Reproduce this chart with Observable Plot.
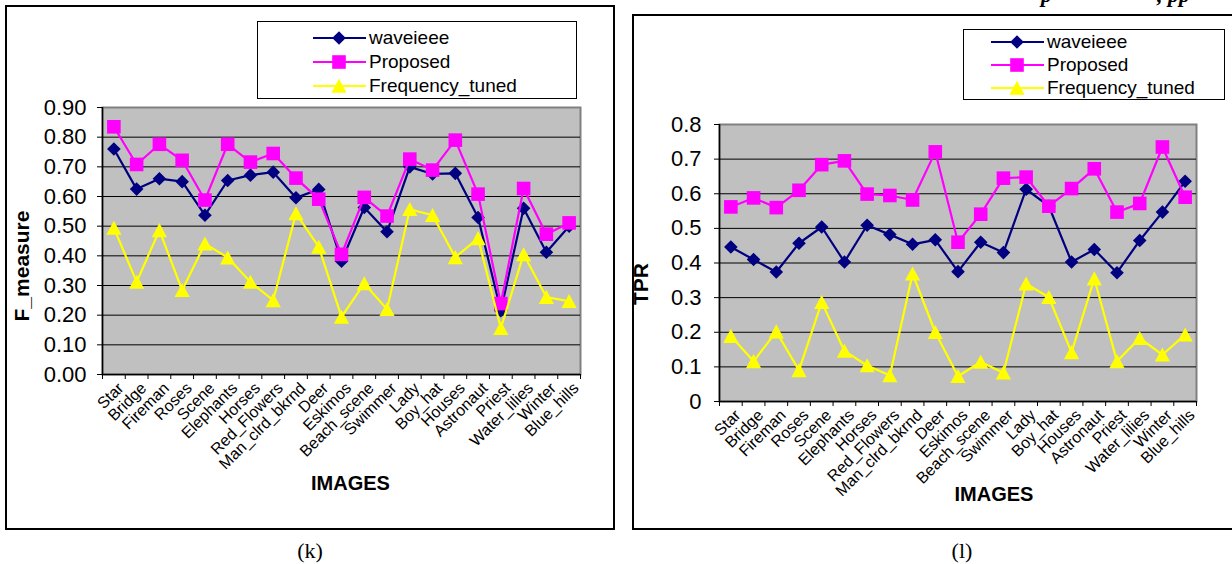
<!DOCTYPE html>
<html>
<head>
<meta charset="utf-8">
<script src="https://cdn.jsdelivr.net/npm/d3@7"></script>
<script src="https://cdn.jsdelivr.net/npm/@observablehq/plot@0.6"></script>
<style>
html, body { margin: 0; padding: 0; background: #fff; }
body { width: 1232px; height: 564px; position: relative; overflow: hidden; font-family: "Liberation Sans", Arial, sans-serif; }
.frame { position: absolute; border: 2px solid #000; box-sizing: border-box; }
.chart { position: absolute; }
.chart svg { overflow: visible; }
.legend { position: absolute; border: 1px solid #000; background: #fff; box-sizing: border-box; }
.legend .row { position: absolute; height: 24px; line-height: 24px; font-size: 19px; color: #000; white-space: nowrap; }
.legend svg { position: absolute; overflow: visible; }
.caption { position: absolute; font-family: "Liberation Serif", "Times New Roman", serif; font-size: 22px; transform: translateX(-50%); line-height: 24px; }
.top { position: absolute; font-family: "Liberation Serif", "Times New Roman", serif; font-weight: bold; font-style: italic; font-size: 22px; line-height: 22px; white-space: nowrap; }
</style>
</head>
<body>
<script>
// ---------------- data ----------------
const images = ["Star","Bridge","Fireman","Roses","Scene","Elephants","Horses","Red_Flowers","Man_clrd_bkrnd","Deer","Eskimos","Beach_scene","Swimmer","Lady","Boy_hat","Houses","Astronaut","Priest","Water_lilies","Winter","Blue_hills"];
const seriesNames = ["waveieee", "Proposed", "Frequency_tuned"];
const seriesColors = ["#000080", "#FF00FF", "#FFFF00"];

// (k) F_measure
const fWaveieee = [0.760,0.625,0.660,0.650,0.537,0.654,0.672,0.682,0.596,0.624,0.382,0.563,0.481,0.700,0.676,0.678,0.529,0.215,0.560,0.412,0.500];
const fProposed = [0.835,0.708,0.776,0.722,0.588,0.776,0.716,0.745,0.662,0.591,0.405,0.597,0.534,0.726,0.689,0.790,0.608,0.239,0.627,0.473,0.511];
const fFreqTuned = [0.494,0.312,0.486,0.284,0.441,0.394,0.312,0.250,0.543,0.430,0.194,0.307,0.220,0.557,0.537,0.395,0.459,0.156,0.405,0.261,0.247];
const fTicks = [0,0.1,0.2,0.3,0.4,0.5,0.6,0.7,0.8,0.9];
const fTickLabels = ["0.00","0.10","0.20","0.30","0.40","0.50","0.60","0.70","0.80","0.90"];

// (l) TPR
const tWaveieee = [0.446,0.410,0.374,0.457,0.504,0.403,0.509,0.482,0.454,0.467,0.375,0.460,0.430,0.613,0.564,0.403,0.439,0.372,0.465,0.547,0.636];
const tProposed = [0.562,0.588,0.560,0.610,0.684,0.695,0.599,0.595,0.582,0.721,0.460,0.541,0.645,0.648,0.564,0.615,0.672,0.547,0.572,0.735,0.590];
const tFreqTuned = [0.189,0.116,0.202,0.090,0.287,0.146,0.104,0.075,0.369,0.200,0.073,0.114,0.083,0.340,0.301,0.142,0.355,0.116,0.183,0.135,0.193];
const tTicks = [0,0.1,0.2,0.3,0.4,0.5,0.6,0.7,0.8];
const tTickLabels = ["0","0.1","0.2","0.3","0.4","0.5","0.6","0.7","0.8"];

// ---------------- symbols ----------------
const diamondSym = { draw(ctx, size) { const r = Math.sqrt(size / Math.PI); ctx.moveTo(0, -r); ctx.lineTo(r, 0); ctx.lineTo(0, r); ctx.lineTo(-r, 0); ctx.closePath(); } };
const squareSym = { draw(ctx, size) { const r = Math.sqrt(size / Math.PI); ctx.moveTo(-r, -r); ctx.lineTo(r, -r); ctx.lineTo(r, r); ctx.lineTo(-r, r); ctx.closePath(); } };
const triangleSym = { draw(ctx, size) { const r = Math.sqrt(size / Math.PI); ctx.moveTo(0, -r * 0.95); ctx.lineTo(r, r * 0.9); ctx.lineTo(-r, r * 0.9); ctx.closePath(); } };
const symbols = [diamondSym, squareSym, triangleSym];
const symbolR = [6.8, 6.8, 7.6];

const FONT = "'Liberation Sans', Arial, sans-serif";

function makeChart(cfg) {
  const n = images.length;
  const idx = d3.range(n);
  const bounds = d3.range(n + 1).map(i => i - 0.5);
  const yMax = cfg.ticks[cfg.ticks.length - 1];
  const seriesMarks = [];
  cfg.series.forEach((vals, s) => {
    const rows = vals.map((v, i) => ({ i, v }));
    seriesMarks.push(Plot.line(rows, { x: "i", y: "v", stroke: seriesColors[s], strokeWidth: 2.2 }));
    seriesMarks.push(Plot.dot(rows, { x: "i", y: "v", symbol: symbols[s], r: symbolR[s], fill: seriesColors[s], stroke: "none" }));
  });
  return Plot.plot({
    width: cfg.width, height: cfg.height,
    marginLeft: cfg.ml, marginRight: cfg.mr, marginTop: cfg.mt, marginBottom: cfg.mb,
    style: { fontFamily: FONT, background: "transparent", color: "#000", overflow: "visible" },
    x: { type: "linear", domain: [-0.5, n - 0.5] },
    y: { type: "linear", domain: [0, yMax] },
    marks: [
      Plot.frame({ fill: "#C0C0C0", stroke: "#808080", strokeWidth: 2 }),
      Plot.ruleY(cfg.ticks.filter(t => t > 0 && t < yMax), { stroke: "#000", strokeWidth: 1 }),
      Plot.ruleX([-0.5], { stroke: "#000", strokeWidth: 1.5 }),
      Plot.ruleY([0], { stroke: "#000", strokeWidth: 1.5 }),
      Plot.axisY({ ticks: cfg.ticks, tickFormat: d => cfg.tickLabels[cfg.ticks.indexOf(d)], tickSize: 5, tickPadding: cfg.yPad, fontSize: 22, label: null }),
      Plot.axisX({ ticks: bounds, tickFormat: () => "", tickSize: 5, label: null }),
      Plot.axisX({ ticks: idx, tickFormat: i => images[i], tickSize: 0, tickPadding: 11, tickRotate: -45, fontSize: 16, dx: 7, label: null }),
      Plot.text([cfg.yLabel], { frameAnchor: "left", textAnchor: "middle", dx: cfg.yLabelDx, dy: cfg.yLabelDy, rotate: -90, fontSize: 21, fontWeight: "bold", fill: "#000" }),
      Plot.text(["IMAGES"], { frameAnchor: "bottom", dx: cfg.xLabelDx, dy: cfg.xLabelDy, fontSize: 20, fontWeight: "bold", fill: "#000" }),
      ...seriesMarks
    ]
  });
}

function sampleSvg(s) {
  const p = d3.path();
  p.moveTo(-26, 0); p.lineTo(27, 0);
  const m = d3.path();
  symbols[s].draw(m, symbolR[s] * symbolR[s] * Math.PI);
  return `<svg width="54" height="20" viewBox="-27 -10 54 20" style="left:0;top:2px"><path d="${p}" stroke="${seriesColors[s]}" stroke-width="2.2" fill="none"/><path d="${m}" fill="${seriesColors[s]}"/></svg>`;
}

function addLegend(box) {
  const lg = document.createElement("div");
  lg.className = "legend";
  Object.assign(lg.style, { left: box.x + "px", top: box.y + "px", width: box.w + "px", height: box.h + "px" });
  seriesNames.forEach((name, s) => {
    const row = document.createElement("div");
    row.className = "row";
    row.style.left = box.lineX + "px";
    row.style.top = (box.rowY[s] - 12) + "px";
    row.innerHTML = sampleSvg(s) + `<span style="position:absolute;left:${box.textX}px;top:0">${name}</span>`;
    lg.appendChild(row);
  });
  document.body.appendChild(lg);
}

function place(el, x, y) { el.style.left = x + "px"; el.style.top = y + "px"; }

// ----- chart (k) -----
const frameK = document.createElement("div");
frameK.className = "frame";
Object.assign(frameK.style, { left: "5px", top: "5px", width: "610px", height: "525px" });
document.body.appendChild(frameK);

const chartK = document.createElement("div");
chartK.className = "chart";
place(chartK, 5, 5);
chartK.appendChild(makeChart({
  width: 609, height: 524, ml: 97, mr: 34, mt: 102, mb: 155,
  ticks: fTicks, tickLabels: fTickLabels, yPad: 11,
  series: [fWaveieee, fProposed, fFreqTuned],
  yLabel: "F_measure", yLabelDx: -80, yLabelDy: 25,
  xLabelDx: 9, xLabelDy: 115
}));
document.body.appendChild(chartK);

addLegend({ x: 257, y: 21, w: 320, h: 78, lineX: 54, textX: 57, rowY: [16, 40, 64] });

// ----- chart (l) -----
const frameL = document.createElement("div");
frameL.className = "frame";
Object.assign(frameL.style, { left: "632px", top: "14px", width: "620px", height: "516px" });
document.body.appendChild(frameL);

const chartL = document.createElement("div");
chartL.className = "chart";
place(chartL, 632, 14);
chartL.appendChild(makeChart({
  width: 600, height: 516, ml: 87, mr: 36, mt: 110, mb: 129,
  ticks: tTicks, tickLabels: tTickLabels, yPad: 13,
  series: [tWaveieee, tProposed, tFreqTuned],
  yLabel: "TPR", yLabelDx: -78, yLabelDy: 21,
  xLabelDx: 36, xLabelDy: 99
}));
document.body.appendChild(chartL);

addLegend({ x: 963, y: 29, w: 262, h: 71, lineX: 26, textX: 57, rowY: [12, 35, 58] });

// ----- captions -----
const capK = document.createElement("div"); capK.className = "caption"; capK.textContent = "(k)"; place(capK, 310, 539); document.body.appendChild(capK);
const capL = document.createElement("div"); capL.className = "caption"; capL.textContent = "(l)"; place(capL, 962, 539); document.body.appendChild(capL);

// ----- partial running header at the very top (cut off, as in the source page) -----
const top1 = document.createElement("div"); top1.className = "top"; top1.textContent = "p"; place(top1, 1041, -16); document.body.appendChild(top1);
const top2 = document.createElement("div"); top2.className = "top"; top2.textContent = ", pp"; place(top2, 1157, -16); document.body.appendChild(top2);
</script>
</body>
</html>
